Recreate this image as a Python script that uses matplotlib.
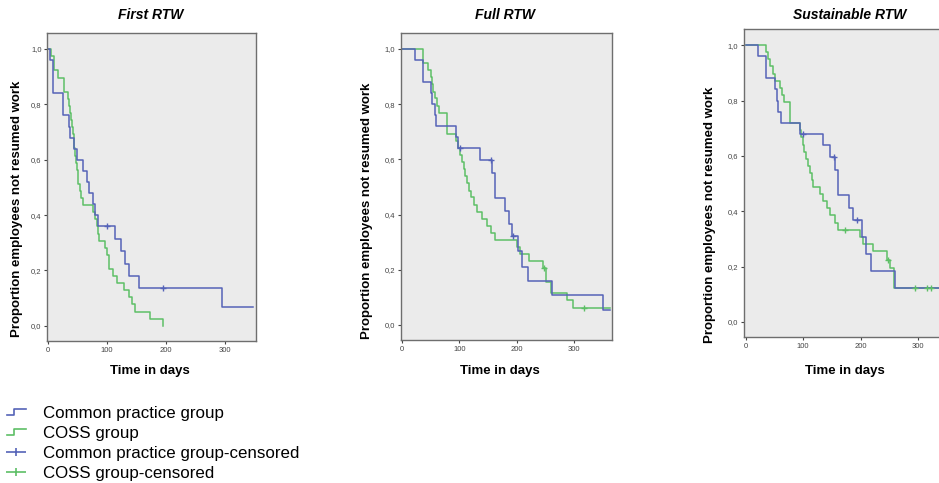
import numpy as np
import matplotlib
matplotlib.use("Agg")
import matplotlib.pyplot as plt
from matplotlib.lines import Line2D
from matplotlib.legend_handler import HandlerBase
from matplotlib.path import Path
from matplotlib.ticker import FuncFormatter

plt.rcParams['font.family'] = ['Liberation Sans', 'DejaVu Sans']

# ---- data (Kaplan-Meier steps) ----
panel_titles = ["First RTW", "Full RTW", "Sustainable RTW"]
group_names = ["Common practice group", "COSS group",
               "Common practice group-censored", "COSS group-censored"]
x_ticks = [0, 100, 200, 300]
y_ticks = [0.0, 0.2, 0.4, 0.6, 0.8, 1.0]

# First RTW
first_cp_t = [0, 4, 9, 26, 36, 38, 45, 50, 60, 67, 70, 76, 80, 85, 114, 124, 131, 137, 155, 296, 347]
first_cp_s = [1.0, 0.96, 0.84, 0.76, 0.72, 0.68, 0.64, 0.60, 0.56, 0.52, 0.48, 0.44, 0.40, 0.36,
              0.315, 0.27, 0.225, 0.18, 0.135, 0.0675, 0.0675]
first_cp_cens = [100, 195]
first_coss_t = [0, 6, 10, 18, 27, 35, 36, 37, 39, 41, 42, 44, 45, 47, 48, 49, 51, 52, 54, 56, 60,
                77, 80, 84, 85, 87, 97, 100, 104, 111, 118, 129, 137, 142, 148, 173, 196]
first_coss_s = [1.0, 0.974, 0.923, 0.897, 0.846, 0.821, 0.795, 0.769, 0.744, 0.718, 0.692, 0.667,
                0.641, 0.615, 0.590, 0.564, 0.538, 0.513, 0.487, 0.462, 0.436, 0.410, 0.385, 0.359,
                0.333, 0.308, 0.282, 0.256, 0.205, 0.179, 0.154, 0.128, 0.103, 0.077, 0.051, 0.026, 0.0]
first_coss_cens = []

# Full RTW
full_cp_t = [0, 23, 37, 50, 53, 57, 60, 94, 98, 137, 157, 162, 180, 186, 192, 203, 209, 219, 261, 351, 362]
full_cp_s = [1.0, 0.96, 0.88, 0.84, 0.80, 0.76, 0.72, 0.68, 0.64, 0.597, 0.551, 0.459, 0.413, 0.367,
             0.321, 0.266, 0.211, 0.16, 0.107, 0.055, 0.055]
full_cp_cens = [101, 155, 194]
full_coss_t = [0, 37, 46, 50, 53, 55, 58, 61, 64, 78, 95, 97, 102, 105, 108, 110, 113, 117, 121, 126,
               131, 139, 148, 156, 162, 200, 206, 222, 246, 251, 260, 287, 299, 362]
full_coss_s = [1.0, 0.949, 0.923, 0.897, 0.872, 0.846, 0.821, 0.795, 0.769, 0.692, 0.667, 0.641,
               0.615, 0.590, 0.564, 0.538, 0.513, 0.487, 0.462, 0.436, 0.410, 0.385, 0.359, 0.333,
               0.308, 0.282, 0.256, 0.231, 0.205, 0.157, 0.115, 0.09, 0.06, 0.06]
full_coss_cens = [248, 318]

# Sustainable RTW
sust_cp_t = [0, 22, 36, 51, 54, 57, 61, 94, 135, 146, 156, 161, 180, 186, 202, 209, 218, 260, 366]
sust_cp_s = [1.0, 0.96, 0.88, 0.84, 0.80, 0.76, 0.72, 0.68, 0.64, 0.597, 0.55, 0.459, 0.413, 0.367,
             0.306, 0.245, 0.184, 0.123, 0.123]
sust_cp_cens = [99, 154, 193]
sust_coss_t = [0, 35, 38, 42, 48, 51, 60, 63, 66, 77, 95, 97, 99, 102, 105, 109, 112, 116, 118, 129,
               135, 141, 147, 155, 161, 199, 204, 222, 246, 251, 258, 366]
sust_coss_s = [1.0, 0.974, 0.949, 0.923, 0.897, 0.872, 0.846, 0.821, 0.795, 0.718, 0.692, 0.667,
               0.641, 0.615, 0.590, 0.564, 0.538, 0.513, 0.487, 0.462, 0.436, 0.410, 0.385, 0.359,
               0.333, 0.308, 0.282, 0.256, 0.224, 0.196, 0.123, 0.123]
sust_coss_cens = [172, 248, 294, 316, 323]

panels = [
    (first_cp_t, first_cp_s, first_cp_cens, first_coss_t, first_coss_s, first_coss_cens),
    (full_cp_t, full_cp_s, full_cp_cens, full_coss_t, full_coss_s, full_coss_cens),
    (sust_cp_t, sust_cp_s, sust_cp_cens, sust_coss_t, sust_coss_s, sust_coss_cens),
]

blue = "#5563b8"
green = "#5dbf66"
bg = "#ebebeb"

# axes rectangles (figure fractions) and x limits
rects = [[0.0501, 0.294, 0.2226, 0.6377],
         [0.4267, 0.296, 0.2250, 0.6356],
         [0.7923, 0.302, 0.2258, 0.6377]]
xlims = [(-1.2, 353), (-2, 366), (-3, 366)]
title_x = [0.161, 0.538, 0.905]
xlabel_x = [0.160, 0.532, 0.900]
ylabel_x = [0.018, 0.391, 0.756]
ylabel_y = [0.567, 0.563, 0.555]


def step_value(t, s, x):
    i = np.searchsorted(t, x, side='right') - 1
    return s[i]


fig = plt.figure(figsize=(9.39, 4.83), dpi=100)

for k, (ct, cs, cc, gt, gs, gc) in enumerate(panels):
    ax = fig.add_axes(rects[k])
    ax.set_facecolor(bg)
    ax.step(gt, gs, where='post', color=green, lw=1.1)
    ax.step(ct, cs, where='post', color=blue, lw=1.1)
    if gc:
        ax.plot(gc, [step_value(gt, gs, c) for c in gc], ls='none', marker='+',
                color=green, ms=5, mew=1)
    if cc:
        ax.plot(cc, [step_value(ct, cs, c) for c in cc], ls='none', marker='+',
                color=blue, ms=5, mew=1)
    ax.set_xlim(*xlims[k])
    ax.set_ylim(-0.055, 1.058)
    ax.set_xticks(x_ticks)
    ax.set_yticks(y_ticks)
    ax.yaxis.set_major_formatter(FuncFormatter(lambda v, p: f"{v:.1f}".replace('.', ',')))
    ax.tick_params(labelsize=5.5, colors='#444444', length=2.5, width=0.8, pad=1.5)
    for sp in ax.spines.values():
        sp.set_color('#6e6e6e')
        sp.set_linewidth(1.0)
    fig.text(title_x[k], 0.969, panel_titles[k], ha='center', va='center',
             fontsize=10, fontweight='bold', fontstyle='italic')
    fig.text(xlabel_x[k], 0.232, "Time in days", ha='center', va='center',
             fontsize=9.5, fontweight='bold')
    fig.text(ylabel_x[k], ylabel_y[k], "Proportion employees not resumed work",
             ha='center', va='center', rotation=90, fontsize=9.5, fontweight='bold')


class HandlerStep(HandlerBase):
    def create_artists(self, legend, orig_handle, xdescent, ydescent, width, height, fontsize, trans):
        x0, y0 = -xdescent, -ydescent
        xs = [x0, x0 + width * 0.4, x0 + width * 0.4, x0 + width]
        ys = [y0 + height * 0.2, y0 + height * 0.2, y0 + height * 0.75, y0 + height * 0.75]
        ln = Line2D(xs, ys, color=orig_handle.get_color(), lw=1.2, transform=trans)
        return [ln]


wide_plus = Path([(-1, 0), (1, 0), (0, -0.45), (0, 0.45)],
                 [Path.MOVETO, Path.LINETO, Path.MOVETO, Path.LINETO])

handles = [Line2D([], [], color=blue), Line2D([], [], color=green),
           Line2D([], [], color=blue, ls='none', marker=wide_plus, ms=14, mew=1.2),
           Line2D([], [], color=green, ls='none', marker=wide_plus, ms=14, mew=1.2)]
fig.legend(handles, group_names, loc='upper left', bbox_to_anchor=(0.0075, 0.16),
           frameon=False, fontsize=12.2, handlelength=1.1, handletextpad=1.05,
           labelspacing=0.3, borderpad=0, borderaxespad=0, numpoints=1,
           handler_map={handles[0]: HandlerStep(), handles[1]: HandlerStep()})

fig.savefig("out.png", dpi=100)
